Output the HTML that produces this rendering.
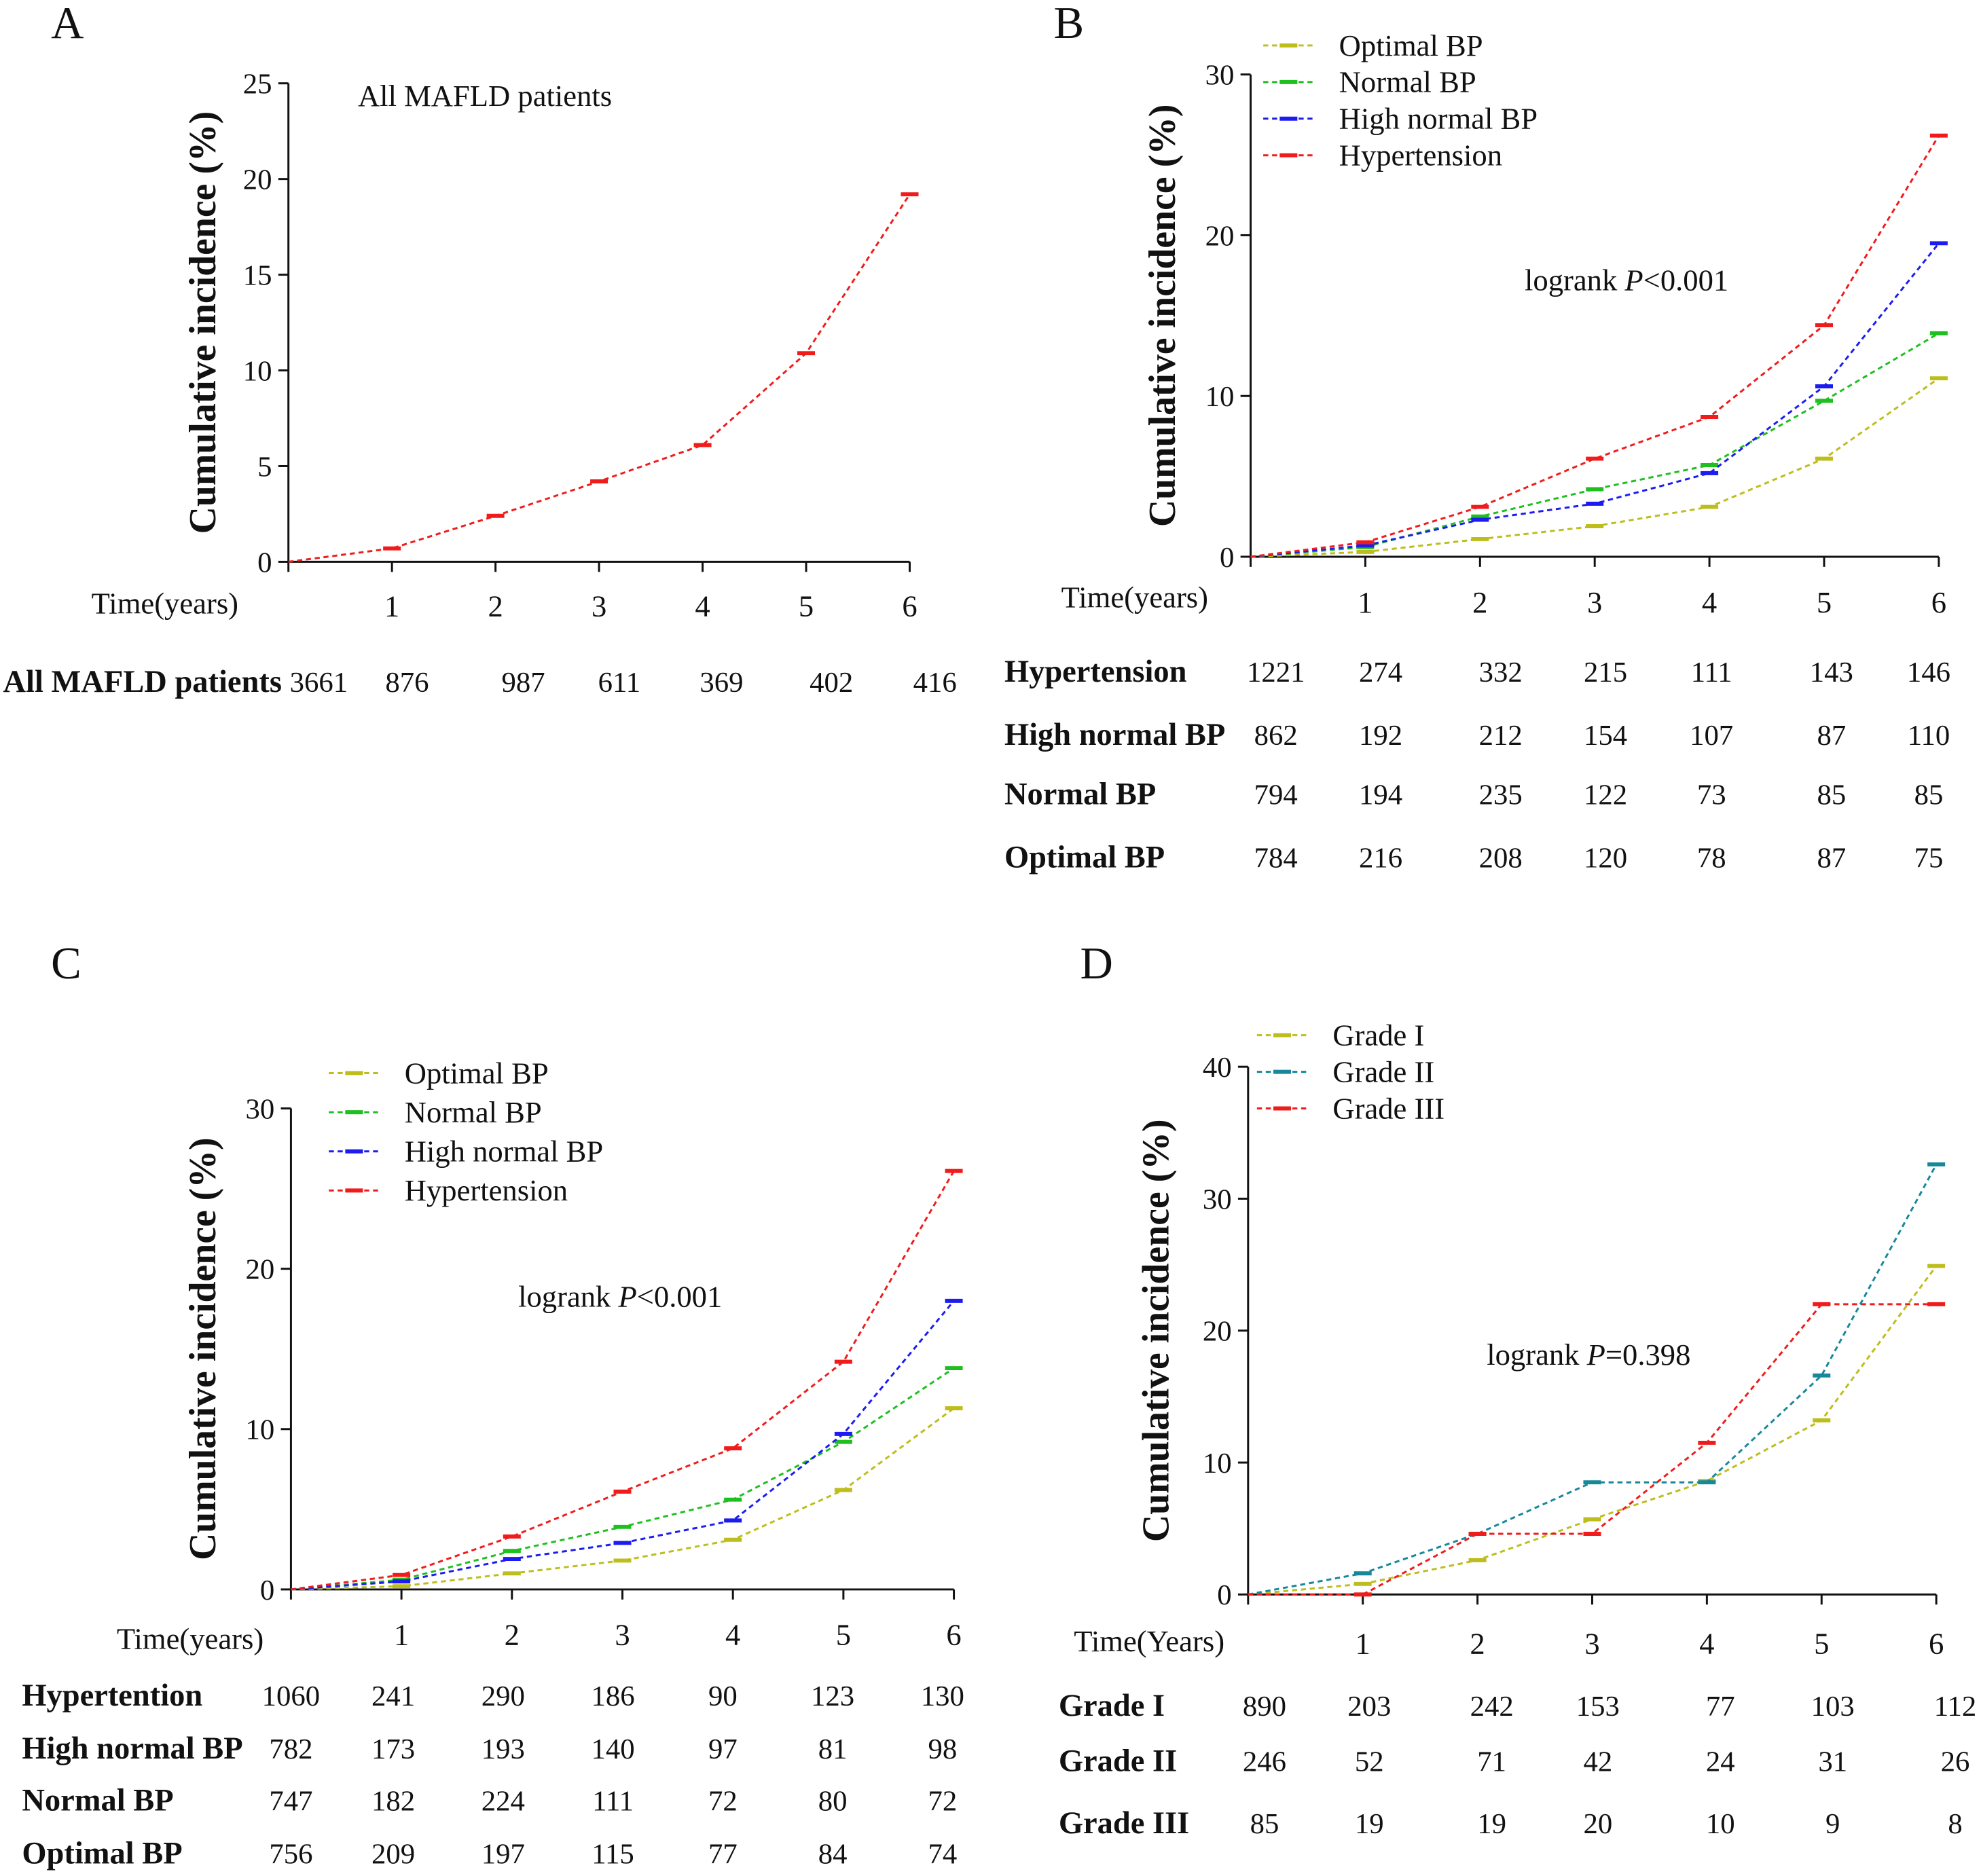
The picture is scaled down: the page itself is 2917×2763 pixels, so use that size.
<!DOCTYPE html>
<html><head><meta charset="utf-8"><style>
html,body{margin:0;padding:0;background:#fff}
svg{display:block}
text{font-family:"Liberation Serif",serif;fill:#111}
</style></head><body>
<svg id="fig" width="2917" height="2763" viewBox="0 0 1568 1486" xmlns="http://www.w3.org/2000/svg"></svg>
<script>
const years=[0,1,2,3,4,5,6];
const aAll=[0,0.7,2.4,4.2,6.1,10.9,19.2];
const bOpt=[0,0.3,1.1,1.9,3.1,6.1,11.1];
const bNorm=[0,0.6,2.5,4.2,5.7,9.7,13.9];
const bHigh=[0,0.7,2.3,3.3,5.2,10.6,19.5];
const bHyp=[0,0.9,3.1,6.1,8.7,14.4,26.2];
const cOpt=[0,0.2,1.0,1.8,3.1,6.2,11.3];
const cNorm=[0,0.6,2.4,3.9,5.6,9.2,13.8];
const cHigh=[0,0.5,1.9,2.9,4.3,9.7,18.0];
const cHyp=[0,0.9,3.3,6.1,8.8,14.2,26.1];
const dG1=[0,0.8,2.6,5.7,8.6,13.2,24.9];
const dG2=[0,1.6,4.6,8.5,8.5,16.6,32.6];
const dG3=[0,0,4.6,4.6,11.5,22,22];
const riskA=[["All MAFLD patients",[3661,876,987,611,369,402,416]]];
const riskB=[["Hypertension",[1221,274,332,215,111,143,146]],["High normal BP",[862,192,212,154,107,87,110]],["Normal BP",[794,194,235,122,73,85,85]],["Optimal BP",[784,216,208,120,78,87,75]]];
const riskC=[["Hypertention",[1060,241,290,186,90,123,130]],["High normal BP",[782,173,193,140,97,81,98]],["Normal BP",[747,182,224,111,72,80,72]],["Optimal BP",[756,209,197,115,77,84,74]]];
const riskD=[["Grade I",[890,203,242,153,77,103,112]],["Grade II",[246,52,71,42,24,31,26]],["Grade III",[85,19,19,20,10,9,8]]];
const C={olive:"#bdbd1c",green:"#1fbf1f",blue:"#1c1cf0",red:"#f01c1c",teal:"#17879a"};
const NS="http://www.w3.org/2000/svg";
const svg=document.getElementById('fig');
function el(tag,attrs,parent,txt){const e=document.createElementNS(NS,tag);for(const k in attrs)e.setAttribute(k,attrs[k]);if(txt!==undefined)e.textContent=txt;(parent||svg).appendChild(e);return e;}
function panel(p){
  const g=el('g',{});
  
  
  const xs=t=>p.x0+(p.x6-p.x0)*t/6;
  const ys=v=>p.y0-(p.y0-p.yTop)*v/p.yMax;
  const t=el('text',{x:p.lx,y:p.ly,'font-size':36},g,p.id);
  
  const ax=el('path',{d:`M${p.x0},${p.yTop}V${p.y0}H${p.x6}`,stroke:'#111','stroke-width':1.6,fill:'none'},g);
  
  for(let v=0;v<=p.yMax;v+=p.yStep){
    el('line',{x1:p.x0-8,x2:p.x0,y1:ys(v),y2:ys(v),stroke:'#111','stroke-width':1.6},g);
    const tl=el('text',{x:p.x0-13,y:ys(v)+8,'font-size':23,'text-anchor':'end'},g,v);
    
  }
  years.forEach(y=>{
    el('line',{x1:xs(y),x2:xs(y),y1:p.y0,y2:p.y0+8,stroke:'#111','stroke-width':1.6},g);
    if(y>0){const tl=el('text',{x:xs(y),y:p.tickY,'font-size':24,'text-anchor':'middle'},g,y);
    }
  });
  const cy=(p.y0+p.yTop)/2+p.titleDy;
  const yt=el('text',{x:p.titleX,y:cy,'font-size':30,'font-weight':'bold','text-anchor':'middle',transform:`rotate(-90 ${p.titleX} ${cy})`},g,'Cumulative incidence (%)');
  
  const tx=el('text',{x:p.timeX,y:p.timeY,'font-size':24},g,p.timeLabel);
  
  if(p.note){const n=el('text',{x:p.note[0],y:p.note[1],'font-size':24},g);
    
    n.innerHTML=p.note[2];}
  p.series.forEach(s=>{
    const sg=el('g',{},g);
    
    
    const pts=s.data.map((v,i)=>xs(years[i])+','+ys(v)).join(' ');
    el('polyline',{points:pts,fill:'none',stroke:s.color,'stroke-width':1.6,'stroke-dasharray':'4,3'},sg);
    s.data.forEach((v,i)=>{if(i>0){const m=el('line',{x1:xs(years[i])-7,x2:xs(years[i])+7,y1:ys(v),y2:ys(v),stroke:s.color,'stroke-width':3.2},sg);
      }});
  });
  if(p.legend){p.series.forEach((s,i)=>{
    const ly=p.legend.y+i*p.legend.dy;
    const lg=el('g',{},g);
    
    el('line',{x1:p.legend.x,x2:p.legend.x+40,y1:ly,y2:ly,stroke:s.color,'stroke-width':1.6,'stroke-dasharray':'4,3'},lg);
    el('line',{x1:p.legend.x+13,x2:p.legend.x+27,y1:ly,y2:ly,stroke:s.color,'stroke-width':3.2},lg);
    el('text',{x:p.legend.x+60,y:ly+8,'font-size':24},lg,s.name);
  });}
  p.risk.forEach((r,ri)=>{
    const ry=p.riskY[ri];
    const rl=el('text',{x:p.riskLX,y:ry,'font-size':25,'font-weight':'bold'},g,r[0]);
    
    r[1].forEach((n,i)=>{const c=el('text',{x:p.riskCols[i],y:ry,'font-size':23,'text-anchor':'middle'},g,n);
      });
  });
}
panel({id:'A',lx:40,ly:30,x0:228,x6:720,y0:445,yTop:66,yMax:25,yStep:5,tickY:488,titleX:170,titleDy:0,timeX:72,timeY:486,timeLabel:'Time(years)',
  note:[283,84,'All MAFLD patients'],series:[{name:'All MAFLD patients',color:C.red,data:aAll}],
  risk:riskA,riskY:[548],riskLX:2,riskCols:[252,322,414,490,571,658,740]});
panel({id:'B',lx:834,ly:30,x0:990,x6:1535,y0:441,yTop:59,yMax:30,yStep:10,tickY:485,titleX:930,titleDy:0,timeX:840,timeY:481,timeLabel:'Time(years)',
  note:[1207,230,'logrank <tspan font-style="italic">P</tspan>&lt;0.001'],
  legend:{x:1000,y:36,dy:29},
  series:[{name:'Optimal BP',color:C.olive,data:bOpt},{name:'Normal BP',color:C.green,data:bNorm},{name:'High normal BP',color:C.blue,data:bHigh},{name:'Hypertension',color:C.red,data:bHyp}],
  risk:riskB,riskY:[540,590,637,687],riskLX:795,riskCols:[1010,1093,1188,1271,1355,1450,1527]});
panel({id:'C',lx:40,ly:775,x0:230,x6:755,y0:1259,yTop:878,yMax:30,yStep:10,tickY:1303,titleX:170,titleDy:0,timeX:92,timeY:1306,timeLabel:'Time(years)',
  note:[410,1035,'logrank <tspan font-style="italic">P</tspan>&lt;0.001'],
  legend:{x:260,y:850,dy:31},
  series:[{name:'Optimal BP',color:C.olive,data:cOpt},{name:'Normal BP',color:C.green,data:cNorm},{name:'High normal BP',color:C.blue,data:cHigh},{name:'Hypertension',color:C.red,data:cHyp}],
  risk:riskC,riskY:[1351,1393,1434,1476],riskLX:17,riskCols:[230,311,398,485,572,659,746]});
panel({id:'D',lx:855,ly:775,x0:988,x6:1533,y0:1263,yTop:845,yMax:40,yStep:10,tickY:1310,titleX:925,titleDy:0,timeX:850,timeY:1308,timeLabel:'Time(Years)',
  note:[1177,1081,'logrank <tspan font-style="italic">P</tspan>=0.398'],
  legend:{x:995,y:820,dy:29},
  series:[{name:'Grade I',color:C.olive,data:dG1},{name:'Grade II',color:C.teal,data:dG2},{name:'Grade III',color:C.red,data:dG3}],
  risk:riskD,riskY:[1359,1403,1452],riskLX:838,riskCols:[1001,1084,1181,1265,1362,1451,1548]});
</script>
</body></html>
